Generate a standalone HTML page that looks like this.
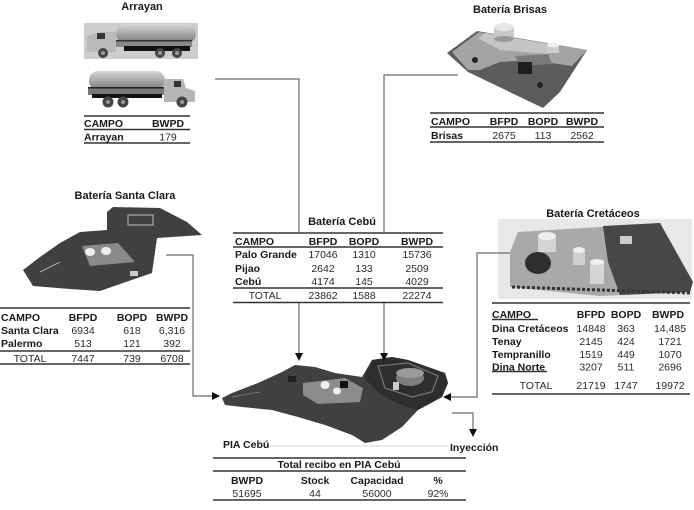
<!DOCTYPE html>
<html><head><meta charset="utf-8"><style>
html,body{margin:0;padding:0;background:#fff;width:694px;height:510px;overflow:hidden}
svg{display:block}
text{font-family:"Liberation Sans",Arial,sans-serif;font-size:10.5px;fill:#1a1a1a}
.b{font-weight:bold}
.t{font-weight:bold;font-size:11px}
.m{text-anchor:middle}
.n{fill:#2a2a2a}
</style></head><body>
<svg width="694" height="510" viewBox="0 0 694 510" xmlns="http://www.w3.org/2000/svg">
<defs>
<linearGradient id="tk" x1="0" y1="0" x2="0" y2="1">
<stop offset="0" stop-color="#d8d8d8"/><stop offset="0.5" stop-color="#a8a8a8"/><stop offset="1" stop-color="#7a7a7a"/>
</linearGradient>
</defs>

<!-- ===== Arrayan ===== -->
<text class="t m" x="142" y="10">Arrayan</text>
<rect x="84" y="23" width="114" height="36" fill="#cdcdcd"/>
<rect x="116" y="24" width="80" height="19" rx="9" fill="url(#tk)"/>
<path d="M87,36 L100,32 L116,32 L116,52 L87,52 Z" fill="#b9b9b9"/>
<rect x="97" y="33" width="8" height="6" fill="#333"/>
<rect x="116" y="40" width="76" height="7" fill="#888"/>
<rect x="116" y="40" width="76" height="1.5" fill="#333"/>
<rect x="124" y="46" width="66" height="5" fill="#111"/>
<circle cx="103" cy="53" r="5" fill="#444"/><circle cx="103" cy="53" r="2" fill="#999"/>
<circle cx="160" cy="53" r="5" fill="#444"/><circle cx="160" cy="53" r="2" fill="#999"/>
<circle cx="177" cy="53" r="5" fill="#444"/><circle cx="177" cy="53" r="2" fill="#999"/>
<rect x="89" y="71" width="76" height="19" rx="9" fill="url(#tk)"/>
<rect x="88" y="87" width="78" height="8" fill="#777"/>
<rect x="88" y="87" width="78" height="1.5" fill="#222"/>
<rect x="92" y="94" width="70" height="4" fill="#111"/>
<path d="M164,79 L183,79 L186,88 L195,91 L195,102 L164,102 Z" fill="#b5b5b5"/>
<rect x="174" y="81" width="7" height="6" fill="#333"/>
<circle cx="108" cy="102" r="5.5" fill="#444"/><circle cx="108" cy="102" r="2" fill="#999"/>
<circle cx="123" cy="102" r="5.5" fill="#444"/><circle cx="123" cy="102" r="2" fill="#999"/>
<circle cx="182" cy="102" r="5.5" fill="#444"/><circle cx="182" cy="102" r="2" fill="#999"/>
<g stroke="#333" stroke-width="1.5">
<line x1="84" y1="116" x2="190" y2="116"/>
<line x1="84" y1="129.5" x2="190" y2="129.5"/>
<line x1="84" y1="143" x2="190" y2="143"/>
</g>
<text class="b" x="84" y="127">CAMPO</text>
<text class="b m" x="168" y="127">BWPD</text>
<text class="b" x="84" y="140.5">Arrayan</text>
<text class="n m" x="168" y="140.5">179</text>

<!-- ===== Bateria Brisas ===== -->
<text class="t m" x="510" y="13">Batería Brisas</text>
<polygon points="447,53 477,31 587,50 560,92 543,108 468,72" fill="#5c5c5c"/>
<polygon points="452,52 479,32 587,50 572,66 530,60 500,62 480,70 468,70" fill="#a4a4a4"/>
<polygon points="478,38 486,33 560,46 548,54 500,50" fill="#c4c4c4"/>
<polygon points="515,56 548,54 552,64 520,66" fill="#7a7a7a"/>
<rect x="494" y="27" width="20" height="12" fill="#c8c8c8"/>
<ellipse cx="504" cy="27" rx="10" ry="4" fill="#e6e6e6"/>
<ellipse cx="504" cy="39" rx="10" ry="3" fill="#999"/>
<rect x="547" y="45" width="12" height="8" fill="#ccc"/>
<ellipse cx="553" cy="45" rx="6" ry="2.5" fill="#eee"/>
<rect x="518" y="62" width="14" height="12" fill="#1e1e1e"/>
<circle cx="475" cy="60" r="3" fill="#222"/><circle cx="540" cy="85" r="3" fill="#222"/>
<g stroke="#333" stroke-width="1.5">
<line x1="430" y1="113" x2="604" y2="113"/>
<line x1="430" y1="127" x2="604" y2="127"/>
<line x1="430" y1="142" x2="604" y2="142"/>
</g>
<text class="b" x="431" y="125">CAMPO</text>
<text class="b m" x="504" y="125">BFPD</text>
<text class="b m" x="543" y="125">BOPD</text>
<text class="b m" x="582" y="125">BWPD</text>
<text class="b" x="431" y="139">Brisas</text>
<text class="n m" x="504" y="139">2675</text>
<text class="n m" x="543" y="139">113</text>
<text class="n m" x="582" y="139">2562</text>

<!-- ===== Bateria Santa Clara ===== -->
<text class="t m" x="125" y="199">Batería Santa Clara</text>
<polygon points="107,212 113,207 160,208 187,222 202,235 157,238 152,273 100,291 70,289 33,286 23,270 40,257 60,243 80,232 107,230" fill="#404040"/>
<polygon points="82,246 118,243 135,262 90,266" fill="#8a8a8a"/>
<ellipse cx="90" cy="252" rx="5" ry="4" fill="#eee"/>
<ellipse cx="106" cy="251" rx="5" ry="4" fill="#eee"/>
<rect x="128" y="215" width="25" height="10" fill="none" stroke="#bbb" stroke-width="1"/>
<rect x="130" y="271" width="8" height="5" fill="#ccc"/>
<line x1="40" y1="272" x2="60" y2="262" stroke="#aaa" stroke-width="1"/>
<g stroke="#333" stroke-width="1.5">
<line x1="0" y1="308" x2="190" y2="308"/>
<line x1="0" y1="351" x2="190" y2="351"/>
<line x1="0" y1="364" x2="190" y2="364"/>
</g>
<text class="b" x="1" y="321">CAMPO</text>
<text class="b m" x="83" y="321">BFPD</text>
<text class="b m" x="132" y="321">BOPD</text>
<text class="b m" x="172" y="321">BWPD</text>
<text class="b" x="1" y="334">Santa Clara</text>
<text class="n m" x="83" y="334">6934</text>
<text class="n m" x="132" y="334">618</text>
<text class="n m" x="172" y="334">6,316</text>
<text class="b" x="1" y="347">Palermo</text>
<text class="n m" x="83" y="347">513</text>
<text class="n m" x="132" y="347">121</text>
<text class="n m" x="172" y="347">392</text>
<text class="n m" x="30" y="362">TOTAL</text>
<text class="n m" x="83" y="362">7447</text>
<text class="n m" x="132" y="362">739</text>
<text class="n m" x="172" y="362">6708</text>

<!-- ===== Bateria Cebu ===== -->
<text class="t m" x="342" y="225">Batería Cebú</text>
<g stroke="#333" stroke-width="1.6">
<line x1="233" y1="233" x2="443" y2="233"/>
<line x1="233" y1="247" x2="443" y2="247"/>
<line x1="233" y1="288" x2="443" y2="288"/>
<line x1="233" y1="302.5" x2="443" y2="302.5"/>
</g>
<text class="b" x="235" y="245">CAMPO</text>
<text class="b m" x="323" y="245">BFPD</text>
<text class="b m" x="364" y="245">BOPD</text>
<text class="b m" x="417" y="245">BWPD</text>
<text class="b" x="235" y="258">Palo Grande</text>
<text class="n m" x="323" y="258">17046</text>
<text class="n m" x="364" y="258">1310</text>
<text class="n m" x="417" y="258">15736</text>
<text class="b" x="235" y="272">Pijao</text>
<text class="n m" x="323" y="272">2642</text>
<text class="n m" x="364" y="272">133</text>
<text class="n m" x="417" y="272">2509</text>
<text class="b" x="235" y="285">Cebú</text>
<text class="n m" x="323" y="285">4174</text>
<text class="n m" x="364" y="285">145</text>
<text class="n m" x="417" y="285">4029</text>
<text class="n m" x="265" y="299">TOTAL</text>
<text class="n m" x="323" y="299">23862</text>
<text class="n m" x="364" y="299">1588</text>
<text class="n m" x="417" y="299">22274</text>

<!-- ===== Bateria Cretaceos ===== -->
<text class="t m" x="593" y="217">Batería Cretáceos</text>
<rect x="498" y="219" width="194" height="80" fill="#e8e8e8"/>
<polygon points="518,232 600,227 660,223 693,282 690,292 600,296 510,287 510,252" fill="#a9a9a9"/>
<polygon points="603,226 660,223 693,282 690,292 620,295 608,262" fill="#474747"/>
<ellipse cx="538" cy="263" rx="13" ry="11" fill="#2e2e2e"/>
<rect x="538" y="236" width="18" height="16" fill="#d4d4d4"/>
<ellipse cx="547" cy="236" rx="9" ry="4" fill="#eee"/>
<rect x="573" y="250" width="12" height="15" fill="#d0d0d0"/>
<ellipse cx="579" cy="250" rx="6" ry="3" fill="#eee"/>
<rect x="590" y="262" width="14" height="22" fill="#d6d6d6"/>
<ellipse cx="597" cy="262" rx="7" ry="3" fill="#f0f0f0"/>
<rect x="620" y="236" width="12" height="8" fill="#ccc"/>
<line x1="512" y1="287" x2="690" y2="293" stroke="#333" stroke-width="3" stroke-dasharray="3,2"/>
<g stroke="#333" stroke-width="1.5">
<line x1="492" y1="303" x2="690" y2="303"/>
<line x1="492" y1="319.5" x2="538" y2="319.5"/>
<line x1="492" y1="371.5" x2="547" y2="371.5"/>
<line x1="492" y1="394" x2="690" y2="394"/>
</g>
<text class="b" x="492" y="318">CAMPO</text>
<text class="b m" x="591" y="318">BFPD</text>
<text class="b m" x="626" y="318">BOPD</text>
<text class="b m" x="668" y="318">BWPD</text>
<text class="b" x="492" y="332">Dina Cretáceos</text>
<text class="n m" x="591" y="332">14848</text>
<text class="n m" x="626" y="332">363</text>
<text class="n m" x="670" y="332">14,485</text>
<text class="b" x="492" y="345">Tenay</text>
<text class="n m" x="591" y="345">2145</text>
<text class="n m" x="626" y="345">424</text>
<text class="n m" x="670" y="345">1721</text>
<text class="b" x="492" y="358">Tempranillo</text>
<text class="n m" x="591" y="358">1519</text>
<text class="n m" x="626" y="358">449</text>
<text class="n m" x="670" y="358">1070</text>
<text class="b" x="492" y="370.5">Dina Norte</text>
<text class="n m" x="591" y="370.5">3207</text>
<text class="n m" x="626" y="370.5">511</text>
<text class="n m" x="670" y="370.5">2696</text>
<text class="n m" x="536" y="389">TOTAL</text>
<text class="n m" x="591" y="389">21719</text>
<text class="n m" x="626" y="389">1747</text>
<text class="n m" x="670" y="389">19972</text>

<!-- ===== PIA Cebu image ===== -->
<polygon points="232,393 258,383 282,372 295,365 315,367 335,373 362,377 372,360 392,357 408,360 445,373 448,383 442,397 418,410 402,427 382,440 365,443 352,435 325,425 298,417 272,410 242,407 225,405 222,398" fill="#404040"/>
<polygon points="372,360 392,357 408,360 445,373 448,383 442,397 418,410 398,404 380,394 364,378" fill="#2e2e2e"/>
<polygon points="378,366 408,363 438,376 432,392 412,397 385,388" fill="none" stroke="#777" stroke-width="1.2"/>
<ellipse cx="410" cy="378" rx="14" ry="8" fill="#7e7e7e"/>
<ellipse cx="410" cy="373" rx="14" ry="5" fill="#9a9a9a"/>
<rect x="393" y="382" width="6" height="8" fill="#ccc"/>
<polygon points="303,383 345,378 363,388 360,402 318,404 303,395" fill="#8c8c8c"/>
<ellipse cx="325" cy="385" rx="4.5" ry="4" fill="#eee"/>
<ellipse cx="337" cy="391" rx="4" ry="3.5" fill="#eee"/>
<rect x="340" y="381" width="8" height="7" fill="#111"/>
<rect x="288" y="376" width="8" height="6" fill="#222"/>
<line x1="232" y1="397" x2="260" y2="392" stroke="#777" stroke-width="1"/>

<!-- ===== Labels ===== -->
<line x1="264" y1="446" x2="448" y2="446" stroke="#d0d0d0" stroke-width="1"/>
<text class="b" x="223" y="448">PIA Cebú</text>
<text class="b" x="450" y="451">Inyección</text>

<!-- ===== PIA table ===== -->
<g stroke="#333" stroke-width="1.5">
<line x1="213" y1="458" x2="466" y2="458"/>
<line x1="213" y1="471" x2="466" y2="471"/>
<line x1="213" y1="500" x2="466" y2="500"/>
</g>
<text class="b m" x="339" y="468">Total recibo en PIA Cebú</text>
<text class="b m" x="247" y="484">BWPD</text>
<text class="b m" x="315" y="484">Stock</text>
<text class="b m" x="377" y="484">Capacidad</text>
<text class="b m" x="438" y="484">%</text>
<text class="n m" x="247" y="497">51695</text>
<text class="n m" x="315" y="497">44</text>
<text class="n m" x="377" y="497">56000</text>
<text class="n m" x="438" y="497">92%</text>

<!-- ===== Connectors ===== -->
<g fill="none" stroke="#6a6a6a" stroke-width="1.2">
<polyline points="215,79 299,79 299,233"/>
<polyline points="458,75 384,75 384,233"/>
<line x1="299" y1="303" x2="299" y2="354"/>
<line x1="384" y1="303" x2="384" y2="354"/>
<polyline points="166,255 193,255 193,396 213,396"/>
<polyline points="510,253 477,253 477,397 450,397"/>
<polyline points="452,413 473,413 473,430"/>
</g>
<g fill="#111">
<polygon points="295,353 303,353 299,361"/>
<polygon points="380,353 388,353 384,361"/>
<polygon points="212,392 212,400 220,396"/>
<polygon points="451,393 451,401 443,397"/>
<polygon points="469,429 477,429 473,437"/>
</g>
</svg>
</body></html>
